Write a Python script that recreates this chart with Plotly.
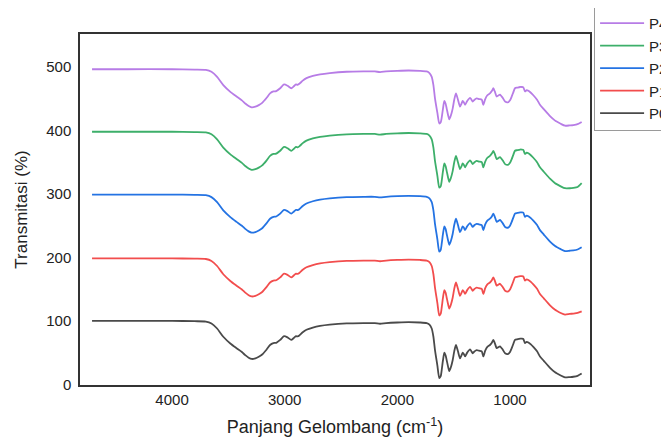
import plotly.graph_objects as go

wavenumber = [4710, 4400, 4000, 3800, 3700, 3650, 3600, 3545, 3480, 3427,
              3380, 3350, 3320, 3293, 3260, 3230, 3200, 3160, 3130, 3100,
              3075, 3040, 3006, 2975, 2942, 2920, 2900, 2885, 2870, 2840,
              2807, 2750, 2686, 2600, 2450, 2300, 2200, 2154, 2100, 2000,
              1900, 1800, 1740, 1715, 1695, 1680, 1666, 1645, 1628, 1615,
              1606, 1595, 1583, 1572, 1562, 1550, 1539, 1525, 1509, 1495,
              1480, 1462, 1444, 1430, 1420, 1410, 1399, 1380, 1355, 1342,
              1331, 1315, 1296, 1275, 1251, 1237, 1220, 1201, 1178, 1160,
              1148, 1135, 1118, 1100, 1089, 1065, 1044, 1015, 1000, 985,
              970, 956, 935, 911, 895, 882, 867, 852, 837, 815,
              793, 760, 734, 700, 645, 600, 586, 550, 512, 470,
              438, 400, 364]

P0 = [100, 100, 100, 99.5, 99, 96, 88, 75, 64, 57,
      51, 46, 42, 40, 41, 43.5, 47, 55, 62, 65,
      65.5, 70, 76, 74, 70, 73, 76, 75.5, 77, 82,
      86, 89.5, 92, 94, 96, 96.5, 96.5, 95.5, 96.5, 97.5,
      98, 97.5, 96.5, 94, 88, 75, 54, 30, 10, 13,
      23, 38, 50, 46, 38, 28, 21, 27, 38, 52,
      62, 52, 41, 46, 50, 48, 44, 50, 55, 52,
      49, 52, 54, 53, 52, 44, 53, 59, 62, 66,
      70, 65, 57, 59, 60, 55, 49, 48, 51, 57,
      64, 70, 71, 72, 72, 71.5, 65, 67, 66, 63,
      59, 52, 44, 37, 26, 19, 17.5, 14, 11, 11.5,
      12, 13.5, 17]

P1 = [198.5, 198.5, 198.5, 198, 197.5, 194.5, 186.5, 173.5, 162.5, 155.5,
      149.5, 144.5, 140.5, 138.5, 139.5, 142, 145.5, 153.5, 160.5, 163.5,
      164, 168.5, 174.5, 172.5, 168.5, 171.5, 174.5, 174, 175.5, 180.5,
      184.5, 188, 190.5, 192.5, 194.5, 195, 195, 194, 195, 196,
      196.5, 196, 195, 192.5, 186.5, 173.5, 152.5, 128.5, 108.5, 111.5,
      121.5, 136.5, 148.5, 144.5, 136.5, 126.5, 119.5, 125.5, 136.5, 150.5,
      160.5, 150.5, 139.5, 144.5, 148.5, 146.5, 142.5, 148.5, 153.5, 150.5,
      147.5, 150.5, 152.5, 151.5, 150.5, 142.5, 151.5, 157.5, 160.5, 164.5,
      168.5, 163.5, 155.5, 157.5, 158.5, 153.5, 147.5, 146.5, 149.5, 155.5,
      162.5, 168.5, 169.5, 170.5, 170.5, 170, 163.5, 165.5, 164.5, 161.5,
      157.5, 150.5, 142.5, 135.5, 124.5, 117.5, 116, 112.5, 110, 111,
      111.5, 112.5, 115]

P2 = [299, 299, 299, 298.5, 298, 295, 287, 274, 263, 256,
      250, 245, 241, 239, 240, 242.5, 246, 254, 261, 264,
      264.5, 269, 275, 273, 269, 272, 275, 274.5, 276, 281,
      285, 288.5, 291, 293, 295, 295.5, 295.5, 294.5, 295.5, 296.5,
      297, 296.5, 295.5, 293, 287, 274, 253, 229, 209, 212,
      222, 237, 249, 245, 237, 227, 220, 226, 237, 251,
      261, 251, 240, 245, 249, 247, 243, 249, 254, 251,
      248, 251, 253, 252, 251, 243, 252, 258, 261, 265,
      269, 264, 256, 258, 259, 254, 248, 247, 250, 256,
      263, 269, 270, 271, 271, 270.5, 264, 266, 265, 262,
      258, 251, 243, 236, 225, 218, 216.5, 213, 210, 210.5,
      211, 212.5, 216]

P3 = [398, 398, 398, 397.5, 397, 394, 386, 373, 362, 355,
      349, 344, 340, 338, 339, 341.5, 345, 353, 360, 363,
      363.5, 368, 374, 372, 368, 371, 374, 373.5, 375, 380,
      384, 387.5, 390, 392, 394, 394.5, 394.5, 393.5, 394.5, 395.5,
      396, 395.5, 394.5, 392, 386, 373, 352, 329, 310, 312,
      321, 336, 348, 344, 336, 326, 319, 325, 336, 350,
      360, 350, 339, 344, 348, 346, 342, 348, 353, 350,
      347, 350, 352, 351, 350, 342, 351, 357, 360, 364,
      368, 363, 355, 357, 358, 353, 347, 346, 349, 355,
      362, 368, 369, 370, 370, 369.5, 363, 365, 364, 361,
      357, 350, 342, 335, 324, 317, 315.5, 312, 309, 309,
      309.5, 311, 317]

P4 = [496.5, 496.5, 496.5, 496, 495.5, 492.5, 484.5, 471.5, 460.5, 453.5,
      447.5, 442.5, 438.5, 436.5, 437.5, 440, 443.5, 451.5, 458.5, 461.5,
      462, 466.5, 472.5, 470.5, 466.5, 469.5, 472.5, 472, 473.5, 478.5,
      482.5, 486, 488.5, 490.5, 492.5, 493, 493, 492, 493, 494,
      494.5, 494, 493, 490.5, 484.5, 471.5, 450.5, 428, 411, 413,
      420.5, 434.5, 446.5, 442.5, 434.5, 424.5, 417.5, 423.5, 434.5, 448.5,
      458.5, 448.5, 437.5, 442.5, 446.5, 444.5, 440.5, 446.5, 451.5, 448.5,
      445.5, 448.5, 450.5, 449.5, 448.5, 440.5, 449.5, 455.5, 458.5, 462.5,
      466.5, 461.5, 453.5, 455.5, 456.5, 451.5, 445.5, 444.5, 447.5, 453.5,
      460.5, 466.5, 467.5, 468.5, 468.5, 468, 461.5, 463.5, 462.5, 459.5,
      455.5, 448.5, 440.5, 433.5, 422.5, 415.5, 414, 410.5, 407.5, 408,
      408.5, 410, 413.5]

series_names = ["P0", "P1", "P2", "P3", "P4"]
series_values = [P0, P1, P2, P3, P4]
colors = ["#4a4a4a", "#f24d4d", "#2473e3", "#3daf6a", "#b77ce6"]

x_ticks = [4000, 3000, 2000, 1000]
y_ticks = [0, 100, 200, 300, 400, 500]

fig = go.Figure()
for name, vals, col in zip(series_names, series_values, colors):
    fig.add_trace(go.Scatter(
        x=wavenumber, y=vals, name=name, mode="lines",
        line=dict(color=col, width=1.8, shape="spline", smoothing=0.6),
    ))

font_family = "Liberation Sans, Arial, sans-serif"
fig.update_layout(
    width=669, height=437,
    margin=dict(l=72, r=87, t=26, b=60, autoexpand=False),
    paper_bgcolor="white", plot_bgcolor="white",
    font=dict(family=font_family, color="#222222", size=15),
    showlegend=True,
    legend=dict(
        x=1.008, y=1.08, xanchor="left", yanchor="top",
        traceorder="reversed",
        bordercolor="#9a9a9a", borderwidth=1,
        font=dict(size=15, family=font_family, color="#222222"),
        bgcolor="white",
        itemwidth=44,
        tracegroupgap=0,
    ),
    xaxis=dict(
        range=[4817, 290], tickvals=x_ticks, ticktext=[str(v) for v in x_ticks],
        showgrid=False, zeroline=False,
        showline=True, linecolor="#333333", linewidth=1.5, mirror=True,
        ticks="", tickfont=dict(size=15),
        title=dict(text="Panjang Gelombang (cm<sup>-1</sup>)", font=dict(size=18), standoff=14),
    ),
    yaxis=dict(
        range=[-1, 552], tickvals=y_ticks, ticktext=[str(v) for v in y_ticks],
        showgrid=False, zeroline=False,
        showline=True, linecolor="#333333", linewidth=1.5, mirror=True,
        ticks="outside", ticklen=4, tickcolor="rgba(0,0,0,0)", tickfont=dict(size=15),
        title=dict(text="Transmitasi (%)", font=dict(size=17), standoff=14),
    ),
)

fig.write_html("out.html")
